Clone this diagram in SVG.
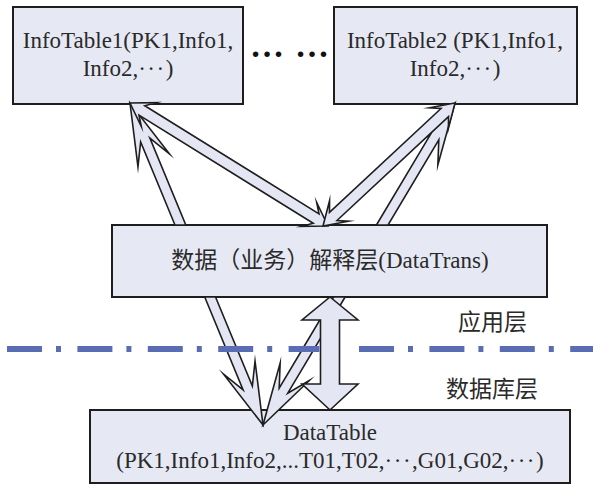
<svg xmlns="http://www.w3.org/2000/svg" width="593" height="486" viewBox="0 0 593 486">
<style>
.box{fill:#e6e9f4;stroke:#1e1e1e;stroke-width:2}
.arr{fill:#e4e7f3;stroke:#1e1e1e;stroke-width:1.6;stroke-linejoin:miter;stroke-miterlimit:20}
.t{font-family:"Liberation Serif","DejaVu Serif","Noto Sans CJK SC",serif;font-size:23px;fill:#2a2a2a}
.c{text-anchor:middle}
.md{letter-spacing:1.5px}
.sep{fill:none;stroke:#5a6db4;stroke-width:6}
</style>
<rect width="593" height="486" fill="#ffffff"/>
<g id="infotable1">
<rect class="box" x="13" y="7" width="230" height="97"/>
<text class="t c" x="128" y="48">InfoTable1(PK1,Info1,</text>
<text class="t c" x="128" y="76">Info2,<tspan class="md">···</tspan>)</text>
</g>
<g id="infotable2">
<rect class="box" x="334" y="7" width="243" height="97"/>
<text class="t c" x="455" y="48">InfoTable2 (PK1,Info1,</text>
<text class="t c" x="455" y="76">Info2,<tspan class="md">···</tspan>)</text>
</g>
<g id="ellipsis">
<text class="t c" x="267" y="57" style="font-size:34px;font-weight:bold;fill:#111">…</text>
<text class="t c" x="312" y="57" style="font-size:34px;font-weight:bold;fill:#111">…</text>
</g>
<g id="datatrans">
<rect class="box" x="112" y="225" width="435" height="72"/>
<text class="t c" x="330" y="268">数据（业务）解释层(DataTrans)</text>
</g>
<g id="datatable">
<rect class="box" x="90" y="410" width="480" height="73"/>
<text class="t c" x="330" y="440">DataTable</text>
<text class="t c" x="330" y="468">(PK1,Info1,Info2,...T01,T02,<tspan class="md">···</tspan>,G01,G02,<tspan class="md">···</tspan>)</text>
</g>
<g id="connectors">
<polygon class="arr" points="174.98,225 140.65,141.88 137.96,166.79 130,103 169.38,153.81 149.89,138.06 185.8,225"/>
<polygon class="arr" points="204.72,297 243.11,389.94 223.62,374.19 263,425 255.04,361.21 252.35,386.12 215.54,297"/>
<polygon class="arr" points="376.44,225 430.22,134.8 408.65,147.54 455,103 437.85,164.96 438.8,139.92 388.07,225"/>
<polygon class="arr" points="333.51,297 279.2,388.08 280.15,363.04 263,425 309.35,380.46 287.78,393.2 345.14,297"/>
<polygon class="arr" points="330,297 358,320 339.5,320 339.5,384 358,384 330,410 302,384 320.5,384 320.5,320 302,320"/>
<polygon class="arr" points="328,226 301.92,226.28 313.21,223.28 138.99,115.06 141.3,126.5 130,103 156.08,102.72 144.79,105.72 319.01,213.94 316.7,202.5"/>
<polygon class="arr" points="323,226 329.56,200.76 329.49,212.44 441.01,108.52 429.36,107.76 455,103 448.44,128.24 448.51,116.56 336.99,220.48 348.64,221.24"/>
</g>
<g id="separator">
<path class="sep" d="M7 349H42M56 349H61M77.4 349H112.4M126.4 349H131.4M147.8 349H182.8M196.8 349H201.8M218.2 349H253.2M267.2 349H272.2M288.6 349H319.4M359 349H394M408 349H413M429.4 349H464.4M478.4 349H483.4M499.8 349H534.8M548.8 349H553.8M570.2 349H593"/>
<text class="t" x="458" y="330">应用层</text>
<text class="t" x="446" y="397">数据库层</text>
</g>
</svg>
